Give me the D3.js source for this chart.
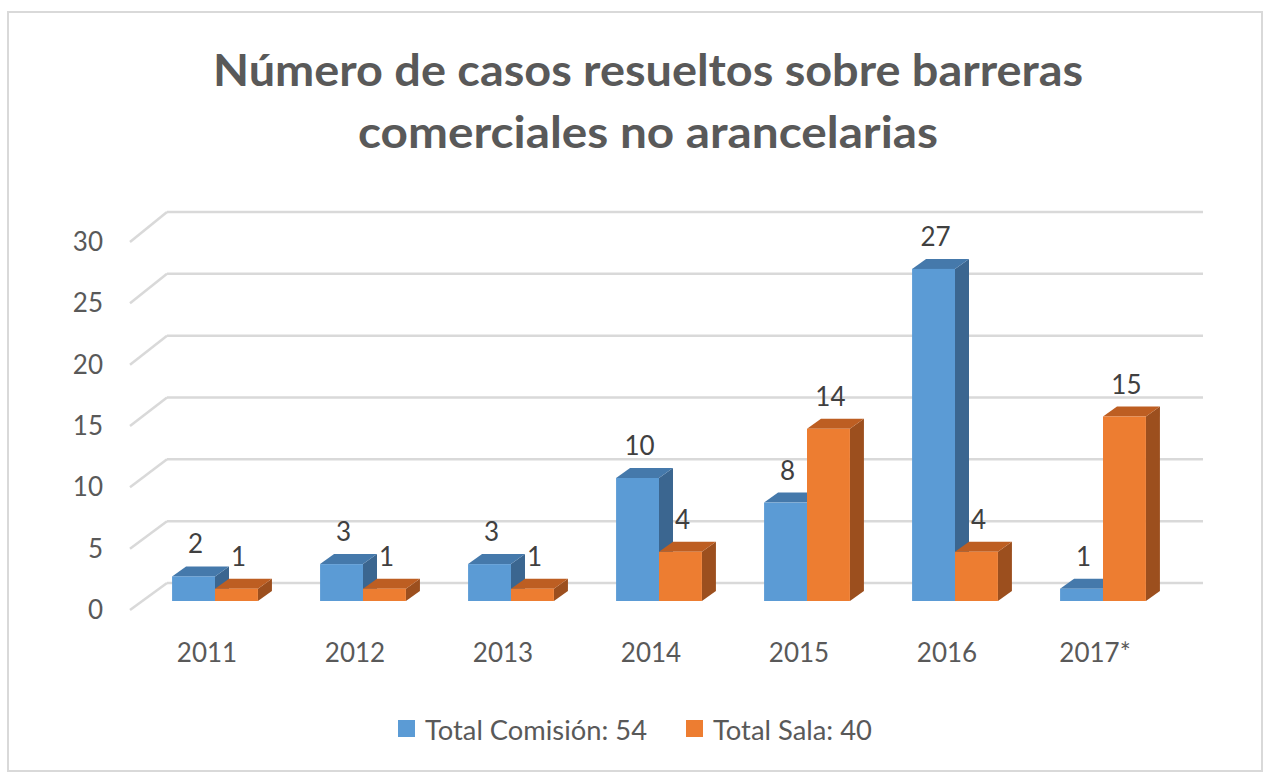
<!DOCTYPE html>
<html>
<head>
<meta charset="utf-8">
<script src="https://cdn.jsdelivr.net/npm/d3@7"></script>
<style>
  body { margin: 0; background: #fff; }
  text { font-family: Lato, "Open Sans", sans-serif; }
</style>
</head>
<body>
<script>
// data
const years = ["2011", "2012", "2013", "2014", "2015", "2016", "2017*"];
const seriesNames = ["Total Comisión: 54", "Total Sala: 40"];
const comision = [2, 3, 3, 10, 8, 27, 1];
const sala = [1, 1, 1, 4, 14, 4, 15];
const yTicks = [0, 5, 10, 15, 20, 25, 30];

const canvWidth = 1268, canvHeight = 774;

// colors per series: front, top, side
const colors = [
  {front: "#5B9BD5", top: "#4579AB", side: "#3B6690"},
  {front: "#ED7D31", top: "#BD5E22", side: "#9C4F1E"}
];

const svg = d3.select("body").append("svg")
  .attr("width", canvWidth)
  .attr("height", canvHeight);

// chart frame
svg.append("rect")
  .attr("x", 8).attr("y", 12)
  .attr("width", 1254).attr("height", 759)
  .attr("fill", "#fff")
  .attr("stroke", "#D9D9D9")
  .attr("stroke-width", 2);

//**************************************************************************
// title
const titleLines = [
  {text: "Número de casos resueltos sobre barreras", y: 86, len: 870},
  {text: "comerciales no arancelarias", y: 148, len: 580}
];
svg.selectAll(".title")
  .data(titleLines)
  .enter().append("text")
  .attr("class", "title")
  .attr("x", 648)
  .attr("y", d => d.y)
  .attr("text-anchor", "middle")
  .attr("font-size", 44)
  .attr("font-weight", "bold")
  .attr("fill", "#595959")
  .attr("textLength", d => d.len)
  .attr("lengthAdjust", "spacingAndGlyphs")
  .text(d => d.text);

//**************************************************************************
// scales
const depth = {dx: 37, dy: -30};       // wall depth
const barDepth = {dx: 14, dy: -10};    // bar depth

const yFront = d3.scaleLinear().domain([0, 30]).range([610, 242]);
const yBack = d3.scaleLinear().domain([0, 30]).range([583, 212]);
const yBar = d3.scaleLinear().domain([0, 30]).range([601, 232]);

const xScale = d3.scaleBand()
  .domain(years)
  .range([141, 1177])
  .paddingInner(0.42)
  .paddingOuter(0.21);

const xSub = d3.scaleBand()
  .domain([0, 1])
  .range([0, xScale.bandwidth()]);

const xLabel = d3.scaleBand()
  .domain(years)
  .range([130, 1166]);

//**************************************************************************
// gridlines (wall)
const grid = svg.append("g").attr("id", "grid");
grid.selectAll(".diag")
  .data(yTicks)
  .enter().append("line")
  .attr("x1", 130).attr("y1", d => yFront(d))
  .attr("x2", 130 + depth.dx).attr("y2", d => yBack(d))
  .attr("stroke", "#D9D9D9").attr("stroke-width", 2.5);
grid.selectAll(".back")
  .data(yTicks)
  .enter().append("line")
  .attr("x1", 130 + depth.dx).attr("y1", d => yBack(d))
  .attr("x2", 1203).attr("y2", d => yBack(d))
  .attr("stroke", "#D9D9D9").attr("stroke-width", 2.5);

// y axis labels
svg.selectAll(".ylabel")
  .data(yTicks)
  .enter().append("text")
  .attr("class", "ylabel")
  .attr("x", 103)
  .attr("y", d => yFront(d))
  .attr("dy", "0.35em")
  .attr("text-anchor", "end")
  .attr("font-size", 26)
  .attr("fill", "#595959")
  .text(d => d);

// x axis labels
svg.selectAll(".xlabel")
  .data(years)
  .enter().append("text")
  .attr("class", "xlabel")
  .attr("x", d => xLabel(d) + xLabel.bandwidth() / 2 + 3)
  .attr("y", 662)
  .attr("text-anchor", "middle")
  .attr("font-size", 26)
  .attr("fill", "#595959")
  .text(d => d);

//**************************************************************************
// bars
const bars = [];
years.forEach((yr, i) => {
  [comision[i], sala[i]].forEach((v, s) => {
    bars.push({year: yr, s: s, value: v});
  });
});

const barG = svg.append("g").attr("id", "bars");
const w = xSub.bandwidth();
const y0 = yBar(0);

bars.forEach(d => {
  const x = xScale(d.year) + xSub(d.s);
  const y = yBar(d.value);
  const c = colors[d.s];
  const g = barG.append("g");
  // side face
  g.append("path")
    .attr("d", `M${x + w},${y} L${x + w + barDepth.dx},${y + barDepth.dy} L${x + w + barDepth.dx},${y0 + barDepth.dy} L${x + w},${y0} Z`)
    .attr("fill", c.side);
  // top face
  g.append("path")
    .attr("d", `M${x},${y} L${x + barDepth.dx},${y + barDepth.dy} L${x + w + barDepth.dx},${y + barDepth.dy} L${x + w},${y} Z`)
    .attr("fill", c.top);
  // front face
  g.append("rect")
    .attr("x", x).attr("y", y)
    .attr("width", w).attr("height", y0 - y)
    .attr("fill", c.front);
});

// data labels
svg.selectAll(".dlabel")
  .data(bars)
  .enter().append("text")
  .attr("class", "dlabel")
  .attr("x", d => xScale(d.year) + xSub(d.s) + w / 2 + 2)
  .attr("y", d => yBar(d.value) - 23)
  .attr("text-anchor", "middle")
  .attr("font-size", 26)
  .attr("fill", "#404040")
  .text(d => d.value);

//**************************************************************************
// legend
const legendPos = [398, 686];
const legendLen = [222, 159];
const legend = svg.selectAll(".legend")
  .data(seriesNames)
  .enter().append("g")
  .attr("class", "legend")
  .attr("transform", (d, i) => `translate(${legendPos[i]},720)`);
legend.append("rect")
  .attr("width", 17).attr("height", 17)
  .attr("fill", (d, i) => colors[i].front);
legend.append("text")
  .attr("x", 27).attr("y", 20)
  .attr("font-size", 27)
  .attr("fill", "#595959")
  .attr("textLength", (d, i) => legendLen[i])
  .attr("lengthAdjust", "spacingAndGlyphs")
  .text(d => d);
</script>
</body>
</html>
